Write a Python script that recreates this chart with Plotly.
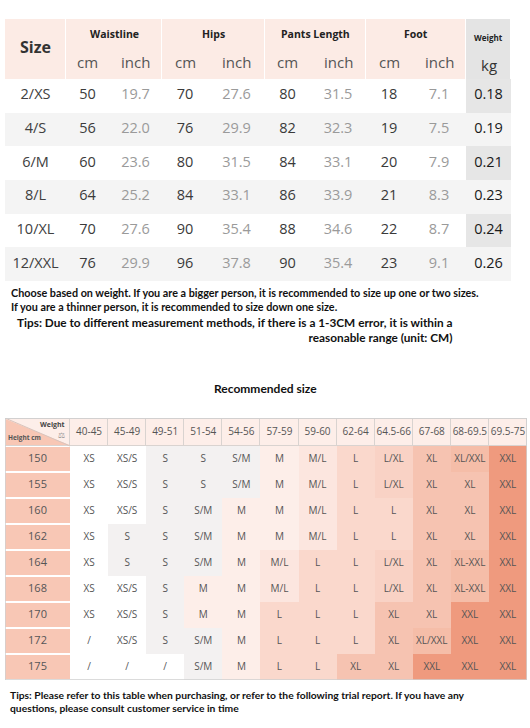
import numpy as np
import plotly.graph_objects as go

# size chart (top table)
SIZES = ["2/XS", "4/S", "6/M", "8/L", "10/XL", "12/XXL"]
WAIST_CM = ["50", "56", "60", "64", "70", "76"]
WAIST_IN = ["19.7", "22.0", "23.6", "25.2", "27.6", "29.9"]
HIPS_CM = ["70", "76", "80", "84", "90", "96"]
HIPS_IN = ["27.6", "29.9", "31.5", "33.1", "35.4", "37.8"]
LENGTH_CM = ["80", "82", "84", "86", "88", "90"]
LENGTH_IN = ["31.5", "32.3", "33.1", "33.9", "34.6", "35.4"]
FOOT_CM = ["18", "19", "20", "21", "22", "23"]
FOOT_IN = ["7.1", "7.5", "7.9", "8.3", "8.7", "9.1"]
WEIGHT_KG = ["0.18", "0.19", "0.21", "0.23", "0.24", "0.26"]
GROUPS = ["Waistline", "Hips", "Pants Length", "Foot"]

# recommended size (bottom table)
WEIGHT_BANDS = ["40-45", "45-49", "49-51", "51-54", "54-56", "57-59",
                "59-60", "62-64", "64.5-66", "67-68", "68-69.5", "69.5-75"]
HEIGHTS = ["150", "155", "160", "162", "164", "168", "170", "172", "175"]
RECOMMEND = [
    ["XS", "XS/S", "S", "S", "S/M", "M", "M/L", "L", "L/XL", "XL", "XL/XXL", "XXL"],
    ["XS", "XS/S", "S", "S", "S/M", "M", "M/L", "L", "L/XL", "XL", "XL", "XXL"],
    ["XS", "XS/S", "S", "S/M", "M", "M", "M/L", "L", "L", "XL", "XL", "XXL"],
    ["XS", "S", "S", "S/M", "M", "M", "M/L", "L", "L", "XL", "XL", "XXL"],
    ["XS", "S", "S", "S/M", "M", "M/L", "L", "L", "L/XL", "XL", "XL-XXL", "XXL"],
    ["XS", "XS/S", "S", "M", "M", "M/L", "L", "L", "L/XL", "XL", "XL-XXL", "XXL"],
    ["XS", "XS/S", "S", "M", "M", "L", "L", "L", "XL", "XL", "XXL", "XXL"],
    ["/", "XS/S", "S", "S/M", "M", "L", "L", "L", "XL", "XL/XXL", "XXL", "XXL"],
    ["/", "/", "/", "S/M", "M", "L", "L", "XL", "XL", "XXL", "XXL", "XXL"],
]

SIZE_COLORS = {
    "/": "#ffffff", "XS": "#ffffff", "XS/S": "#ffffff",
    "S": "#f3f1f1", "S/M": "#f3f1f1",
    "M": "#fdeee9", "M/L": "#fce6df",
    "L": "#fad8cc", "L/XL": "#f9d2c5",
    "XL": "#f6c3b1", "XL/XXL": "#f5bda8", "XL-XXL": "#f5bda8",
    "XXL": "#ef9a7e",
}

FONT = "Open Sans"
BOLD_FONT = "Lato"
W, H = 530, 728


def discrete(colors):
    n = len(colors) - 1
    return [[i / n, c] for i, c in enumerate(colors)]


def edges(widths):
    return np.concatenate([[0], np.cumsum(widths)])


def centers(widths):
    e = edges(widths)
    return (e[:-1] + e[1:]) / 2


fig = go.Figure()

# ---------------- top table ----------------
W1 = [61, 43, 53, 46, 57, 45, 56, 46, 54, 45]
HEAD1, ROW1 = 60, 33.67
GROUP_W = [W1[0], W1[1] + W1[2], W1[3] + W1[4], W1[5] + W1[6], W1[7] + W1[8], W1[9]]
T1_W, T1_H = sum(W1), HEAD1 + ROW1 * len(SIZES)
row_e1 = HEAD1 + edges([ROW1] * len(SIZES))
row_c1 = HEAD1 + centers([ROW1] * len(SIZES))

fig.add_trace(go.Heatmap(
    x=edges(GROUP_W), y=[0, HEAD1], z=[[0, 0, 0, 0, 0, 1]],
    colorscale=discrete(["#fcebe5", "#e4e4e4"]), zmin=0, zmax=1,
    showscale=False, xgap=1, hoverinfo="skip", xaxis="x", yaxis="y"))

z1 = []
for i in range(len(SIZES)):
    stripe = i % 2
    row = [stripe] * (len(W1) - 1) + [2 if i % 2 == 0 else stripe]
    z1.append(row)
fig.add_trace(go.Heatmap(
    x=edges(W1), y=row_e1, z=z1,
    colorscale=discrete(["#ffffff", "#f4f4f4", "#e6e6e6"]), zmin=0, zmax=2,
    showscale=False, hoverinfo="skip", xaxis="x", yaxis="y"))

cols1 = [SIZES, WAIST_CM, WAIST_IN, HIPS_CM, HIPS_IN,
         LENGTH_CM, LENGTH_IN, FOOT_CM, FOOT_IN, WEIGHT_KG]
col_color1 = ["#404040"] + ["#3a3a3a", "#9a9a9a"] * 4 + ["#1a1a1a"]
xc1 = centers(W1)
tx, ty, tt, tc = [], [], [], []
for j, vals in enumerate(cols1):
    for i, v in enumerate(vals):
        tx.append(xc1[j]); ty.append(row_c1[i]); tt.append(v); tc.append(col_color1[j])
fig.add_trace(go.Scatter(
    x=tx, y=ty, text=tt, mode="text", textposition="middle center",
    textfont=dict(family=FONT, size=14.5, color=tc),
    hoverinfo="skip", showlegend=False, xaxis="x", yaxis="y"))

gc = centers(GROUP_W)
ann = []
ann.append(dict(x=gc[0], y=28, text="<b>Size</b>", xref="x", yref="y", showarrow=False,
                font=dict(family=FONT, size=16, color="#333")))
for k, g in enumerate(GROUPS):
    ann.append(dict(x=gc[k + 1], y=15, text="<b>%s</b>" % g, xref="x", yref="y", showarrow=False,
                    font=dict(family=FONT, size=10.5, color="#222")))
for j in range(1, 9):
    ann.append(dict(x=xc1[j], y=43, text="cm" if j % 2 else "inch", xref="x", yref="y",
                    showarrow=False, font=dict(family=FONT, size=15, color="#555")))
ann.append(dict(x=gc[5], y=18, text="<b>Weight</b>", xref="x", yref="y", showarrow=False,
                font=dict(family=FONT, size=8, color="#222")))
ann.append(dict(x=gc[5], y=46, text="kg", xref="x", yref="y", showarrow=False,
                font=dict(family=FONT, size=15, color="#333")))

# ---------------- bottom table ----------------
FIRST2 = 65
COL2 = (522 - FIRST2) / len(WEIGHT_BANDS)
W2 = [FIRST2] + [COL2] * len(WEIGHT_BANDS)
HEAD2, ROW2 = 28, 26
T2_W, T2_H = sum(W2), HEAD2 + ROW2 * len(HEIGHTS)
e2 = edges(W2)
xc2 = centers(W2)
row_e2 = HEAD2 + edges([ROW2] * len(HEIGHTS))
row_c2 = HEAD2 + centers([ROW2] * len(HEIGHTS))
SALMON = "#f8c7b5"

fig.add_trace(go.Heatmap(
    x=e2, y=[0, HEAD2], z=[[0] * len(W2)],
    colorscale=discrete(["#fdeee9", "#fdeee9"]), zmin=0, zmax=1,
    showscale=False, xgap=1, ygap=2, hoverinfo="skip", xaxis="x2", yaxis="y2"))

fig.add_trace(go.Heatmap(
    x=e2[:2], y=row_e2, z=[[0] for _ in HEIGHTS],
    colorscale=discrete([SALMON, SALMON]), zmin=0, zmax=1,
    showscale=False, ygap=2, hoverinfo="skip", xaxis="x2", yaxis="y2"))

palette = list(dict.fromkeys(SIZE_COLORS.values()))
code = {s: palette.index(c) for s, c in SIZE_COLORS.items()}
z2 = [[code[s] for s in row] for row in RECOMMEND]
fig.add_trace(go.Heatmap(
    x=e2[1:], y=row_e2, z=z2,
    colorscale=discrete(palette), zmin=0, zmax=len(palette) - 1,
    showscale=False, hoverinfo="skip", xaxis="x2", yaxis="y2"))

tx, ty, tt = [], [], []
for i, row in enumerate(RECOMMEND):
    for j, s in enumerate(row):
        tx.append(xc2[j + 1]); ty.append(row_c2[i]); tt.append(s)
fig.add_trace(go.Scatter(
    x=tx, y=ty, text=tt, mode="text",
    textfont=dict(family=FONT, size=10, color="#555"),
    hoverinfo="skip", showlegend=False, xaxis="x2", yaxis="y2"))
fig.add_trace(go.Scatter(
    x=[xc2[0]] * len(HEIGHTS), y=row_c2, text=HEIGHTS, mode="text",
    textfont=dict(family=FONT, size=11, color="#555"),
    hoverinfo="skip", showlegend=False, xaxis="x2", yaxis="y2"))
fig.add_trace(go.Scatter(
    x=xc2[1:], y=[HEAD2 / 2] * len(WEIGHT_BANDS), text=WEIGHT_BANDS, mode="text",
    textfont=dict(family=FONT, size=10, color="#555"),
    hoverinfo="skip", showlegend=False, xaxis="x2", yaxis="y2"))

ann.append(dict(x=47, y=7, text="<b>Weight</b>", xref="x2", yref="y2", showarrow=False,
                font=dict(family=FONT, size=7, color="#444")))
ann.append(dict(x=56, y=18, text="⚖", xref="x2", yref="y2", showarrow=False,
                font=dict(family="DejaVu Sans", size=8, color="#8a8a8a")))
ann.append(dict(x=19, y=20, text="<b>Height cm</b>", xref="x2", yref="y2", showarrow=False,
                font=dict(family=FONT, size=6.5, color="#555")))

shapes = [
    dict(type="rect", xref="x2", yref="y2", x0=0, x1=T2_W, y0=0, y1=HEAD2,
         fillcolor="#d9d3d0", line=dict(width=0), layer="below"),
    dict(type="path", xref="x2", yref="y2",
         path="M 0.5,1 L %g,%g L 0.5,%g Z" % (FIRST2 - 0.5, HEAD2 - 1, HEAD2 - 1),
         fillcolor=SALMON, line=dict(width=0)),
    dict(type="line", xref="x2", yref="y2", x0=0, y0=0, x1=FIRST2, y1=HEAD2,
         line=dict(color="#d8c4bd", width=1)),
    dict(type="rect", xref="x2", yref="y2", x0=0, x1=T2_W, y0=0, y1=T2_H,
         line=dict(color="#cfcfcf", width=1.5)),
]

# ---------------- text blocks ----------------
def note(x, y, text, size, anchor="left", align="left"):
    return dict(x=x / W, y=1 - y / H, xref="paper", yref="paper", text="<b>%s</b>" % text,
                showarrow=False, xanchor=anchor, yanchor="middle", align=align,
                font=dict(family=BOLD_FONT, size=size, color="#111"))

ann += [
    note(9, 299, "Choose based on weight. If you are a bigger person, it is recommended to size up one or two sizes."
         "<br>If you are a thinner person, it is recommended to size down one size.", 10.8),
    note(15, 330, "Tips: Due to different measurement methods, if there is a 1-3CM error, it is within a"
         "<br>reasonable range (unit: CM)", 11.8, align="right"),
    note(265, 388, "Recommended size", 12, "center"),
    note(8, 701, "Tips: Please refer to this table when purchasing, or refer to the following trial report. If you have any"
         "<br>questions, please consult customer service in time", 10.3),
]

ax = dict(visible=False, showgrid=False, zeroline=False, fixedrange=True)
fig.update_layout(
    width=W, height=H, margin=dict(l=0, r=0, t=0, b=0),
    paper_bgcolor="white", plot_bgcolor="white", showlegend=False,
    xaxis=dict(ax, domain=[5 / W, (5 + T1_W) / W], range=[0, T1_W]),
    yaxis=dict(ax, domain=[1 - (19 + T1_H) / H, 1 - 19 / H], range=[T1_H, 0]),
    xaxis2=dict(ax, domain=[5 / W, (5 + T2_W) / W], range=[0, T2_W]),
    yaxis2=dict(ax, domain=[1 - (418 + T2_H) / H, 1 - 418 / H], range=[T2_H, 0]),
    annotations=ann, shapes=shapes,
)

fig.write_html("out.html", config={"displayModeBar": False},
               post_script="document.body.style.margin='0';document.body.style.overflow='hidden';")
